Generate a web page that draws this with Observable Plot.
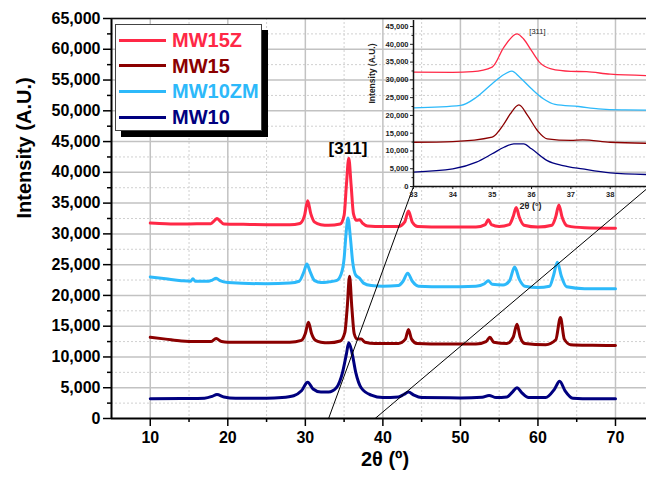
<!DOCTYPE html>
<html><head><meta charset="utf-8">
<script src="https://cdn.jsdelivr.net/npm/d3@7"></script>
<script src="https://cdn.jsdelivr.net/npm/@observablehq/plot@0.6"></script>
<style>
body{margin:0;background:#fff;}
#wrap{position:relative;width:646px;height:484px;overflow:hidden;font-family:Arial,"Liberation Sans",sans-serif;}
#wrap svg{position:absolute;}
#legend{position:absolute;left:115px;top:24px;width:145px;height:105px;border:1px solid #444;background:#fff;box-shadow:6px 6px 0 #000;}
.row{position:absolute;left:0;height:24px;display:flex;align-items:center;}
.sw{width:47px;height:3px;margin-left:3px;margin-right:6px;}
.lab{font-weight:bold;font-size:20px;line-height:20px;}
</style>
</head><body><div id="wrap"><div id="legend"></div></div>
<script>
// ---- data ----
const seriesNames = ["MW15Z", "MW15", "MW10ZM", "MW10"];
const seriesColors = ["#ff2846", "#8b0000", "#2db9fa", "#00007f"];

const MW15Z = [[10,31750],[12,31650],[14,31600],[16,31650],[17.8,31650],[18.3,32200],[18.6,32500],[19.0,32100],[19.5,31600],[22,31550],[25,31500],[28,31500],[29.3,31700],[29.9,33000],[30.3,35400],[30.7,33300],[31.2,31900],[32,31500],[33,31400],[34.5,31600],[35.0,33000],[35.3,38000],[35.6,42300],[35.9,38000],[36.2,33300],[36.6,32200],[37.0,32300],[37.4,31700],[38,31300],[40,31200],[42,31200],[42.8,31900],[43.3,33700],[43.8,31900],[44.5,31200],[48,31100],[52,31100],[53.2,31500],[53.6,32300],[54.0,31500],[55,31200],[56.3,31500],[56.8,32800],[57.2,34300],[57.6,32700],[58.2,31400],[60,31100],[61.8,31400],[62.3,32800],[62.7,34700],[63.1,32800],[63.8,31300],[66,31000],[70,30900]];
const MW15 = [[10,13200],[12,12900],[14,12600],[16,12500],[17.8,12500],[18.5,13000],[19.2,12500],[20,12400],[25,12400],[28,12400],[29.5,12700],[30.0,13800],[30.4,15650],[30.8,13800],[31.3,12700],[32,12400],[33,12300],[34.5,12600],[35.1,14000],[35.4,18000],[35.7,23100],[36.0,18000],[36.3,13800],[36.7,12900],[37.2,12900],[37.7,12400],[39,12200],[42,12200],[42.9,12900],[43.3,14450],[43.7,12900],[44.4,12200],[48,12100],[52,12100],[53.3,12500],[53.8,13200],[54.3,12400],[56,12200],[56.8,13200],[57.3,15300],[57.7,13300],[58.3,12200],[61,12000],[62.3,12800],[62.9,16400],[63.4,12900],[64.2,12000],[67,11900],[70,11850]];
const MW10ZM = [[10,23000],[12,22700],[14,22400],[15.2,22300],[15.5,22700],[15.8,22300],[17.5,22300],[18.0,22500],[18.5,22800],[19.0,22400],[20,22100],[25,21900],[28,22000],[29.2,22300],[29.8,23800],[30.2,25100],[30.6,23900],[31.2,22400],[32,22100],[33,22200],[34,22400],[34.6,23400],[35.0,26000],[35.25,30000],[35.5,32600],[35.8,29500],[36.1,25500],[36.5,23300],[37.0,22800],[37.5,22000],[38.5,21600],[40,21500],[42,21600],[42.6,22300],[43.2,23600],[43.8,22300],[44.6,21500],[48,21400],[52,21500],[53.1,21900],[53.6,22400],[54.1,21800],[55.5,21700],[56.3,22300],[57.0,24600],[57.6,22600],[58.3,21500],[60,21300],[61.5,21500],[62.0,23200],[62.5,25400],[63.0,23200],[63.7,21400],[66,21100],[70,21100]];
const MW10 = [[10,3200],[14,3250],[17,3300],[18,3600],[18.6,3900],[19.5,3500],[21,3300],[25,3300],[27,3400],[28.5,3700],[29.5,4500],[30.3,5900],[31.0,4800],[32,4300],[33,4300],[34,5000],[34.8,7500],[35.3,10500],[35.6,12300],[36.0,10800],[36.5,7500],[37.2,5000],[38.5,3800],[40,3400],[42,3500],[42.7,3900],[43.3,4300],[44.0,3800],[45,3400],[50,3350],[52.8,3450],[53.7,3750],[54.6,3400],[56,3500],[56.7,4300],[57.3,5000],[57.9,4200],[58.8,3400],[61,3400],[62.1,4700],[62.8,6050],[63.5,4500],[64.5,3300],[67,3200],[70,3200]];

// inset (zoom on the [311] reflection)
const inMW15Z = [[33,32150],[34,32100],[34.5,32300],[35.0,33600],[35.3,39200],[35.63,42950],[35.8,41500],[36.0,38200],[36.2,35000],[36.5,33100],[37.0,32400],[37.4,32300],[38.0,31600],[39,31200]];
const inMW10ZM = [[33,22100],[34.2,22800],[34.6,25100],[35.0,28900],[35.3,31500],[35.5,32450],[35.7,30750],[36.0,27500],[36.3,24700],[36.6,23100],[37.2,22500],[37.7,21850],[38.3,21550],[39,21500]];
const inMW15 = [[33,12450],[34,12650],[35.0,13900],[35.3,17600],[35.46,20400],[35.68,22950],[35.9,20000],[36.15,15750],[36.4,13400],[37.0,12950],[37.3,13100],[38.0,12450],[39,12150]];
const inMW10 = [[33,4050],[34,4950],[34.6,6850],[35.0,9200],[35.3,11050],[35.55,12000],[35.8,12000],[36.0,10600],[36.4,7300],[36.8,5900],[37.3,4950],[38.0,3850],[39,3350]];

const xTicks = [10, 20, 30, 40, 50, 60, 70];
const xMinor = [15, 25, 35, 45, 55, 65];
const yTicks = d3.range(0, 65001, 5000);
const yMinor = d3.range(2500, 65000, 5000);
const inXTicks = [33, 34, 35, 36, 37, 38];
const inXMinor = [33.5, 34.5, 35.5, 36.5, 37.5, 38.5];
const inYTicks = d3.range(0, 45001, 5000);
const inYMinor = d3.range(2500, 45000, 5000);
const peakLabel = [{x: 35.5, y: 43900, text: "[311]"}];
const inPeakLabel = [{x: 36.15, y: 43600, text: "[311]"}];
const zoomRange = [33, 39];

function rows(arrs, names) {
  const out = [];
  arrs.forEach((a, i) => a.forEach(([x, y]) => out.push({x, y, s: names[i]})));
  return out;
}
const mainData = rows([MW15Z, MW15, MW10ZM, MW10], seriesNames);
const insetData = rows([inMW15Z, inMW15, inMW10ZM, inMW10], seriesNames);
const colorScale = {domain: seriesNames, range: seriesColors};

// ---- layout ----
const M = {w: 646, h: 484, l: 111, r: 0, t: 18, b: 66};
const mainXDomain = [5, 74], mainYDomain = [0, 65000];
const I = {left: 340, top: 0, w: 309, h: 230, l: 73, r: 0, t: 20, b: 44};
const inYDomain = [0, 46700];

const wrap = document.getElementById("wrap");

// inset
const inset = Plot.plot({
  width: I.w, height: I.h, marginLeft: I.l, marginRight: I.r, marginTop: I.t, marginBottom: I.b,
  x: {domain: zoomRange}, y: {domain: inYDomain},
  color: colorScale,
  style: {background: "transparent", fontFamily: "Arial, 'Liberation Sans', sans-serif", fontSize: "7.5px", fontWeight: "bold", color: "#222", overflow: "visible"},
  marks: [
    Plot.line(insetData, {x: "x", y: "y", z: "s", stroke: "s", strokeWidth: 1.3, curve: "monotone-x"}),
    Plot.axisY(inYTicks, {tickSize: 3, tickPadding: 2, tickFormat: d3.format(","), label: null, strokeWidth: 1}),
    Plot.axisY(inYMinor, {tickSize: 1.5, tickFormat: () => "", label: null}),
    Plot.axisX(inXTicks, {tickSize: 3, tickPadding: 2, tickFormat: d => d, label: null}),
    Plot.axisX(inXMinor, {tickSize: 1.5, tickFormat: () => "", label: null}),
    Plot.ruleX([zoomRange[0]], {stroke: "#111", strokeWidth: 1.5}),
    Plot.ruleY([0], {stroke: "#111", strokeWidth: 1.5}),
    Plot.text(inPeakLabel, {x: "x", y: "y", text: "text", fontSize: 7.5, fontWeight: "normal", fill: "#222"}),
    Plot.text(["Intensity (A.U.)"], {frameAnchor: "left", dx: -41, rotate: -90, fontSize: 8.5, fill: "#222"}),
    Plot.text(["2θ (°)"], {frameAnchor: "bottom", dy: 22, dx: -1, fontSize: 9, fill: "#222"})
  ]
});

// connectors: inset bottom corners expressed in main data coordinates
const mainXS = Plot.scale({x: {domain: mainXDomain, range: [M.l, M.w - M.r]}});
const mainYS = Plot.scale({y: {domain: mainYDomain, range: [M.h - M.b, M.t]}});
const ix = inset.scale("x"), iy = inset.scale("y");
const connectors = zoomRange.map(v => ({
  x1: v, y1: 0,
  x2: mainXS.invert(I.left + ix.apply(v)),
  y2: mainYS.invert(I.top + iy.apply(0))
}));

const main = Plot.plot({
  width: M.w, height: M.h, marginLeft: M.l, marginRight: M.r, marginTop: M.t, marginBottom: M.b,
  x: {domain: mainXDomain}, y: {domain: mainYDomain},
  color: colorScale,
  style: {background: "transparent", fontFamily: "Arial, 'Liberation Sans', sans-serif", fontSize: "16px", fontWeight: "bold", color: "#000"},
  marks: [
    Plot.gridX(xMinor, {stroke: "#d0d0d0", strokeOpacity: 1, strokeDasharray: "2,2"}),
    Plot.gridY(yMinor, {stroke: "#d0d0d0", strokeOpacity: 1, strokeDasharray: "2,2"}),
    Plot.gridX(xTicks, {stroke: "#c2c2c2", strokeOpacity: 1, strokeWidth: 1.5}),
    Plot.gridY(yTicks.filter(d => d > 0), {stroke: "#c2c2c2", strokeOpacity: 1, strokeWidth: 1.5}),
    Plot.line(mainData, {x: "x", y: "y", z: "s", stroke: "s", strokeWidth: 3, curve: "monotone-x"}),
    Plot.link(connectors, {x1: "x1", y1: "y1", x2: "x2", y2: "y2", stroke: "#000", strokeWidth: 1}),
    Plot.axisY(yTicks, {tickSize: 8, tickPadding: 3, tickFormat: d3.format(","), label: null, strokeWidth: 1.5}),
    Plot.axisY(yMinor, {tickSize: 4, tickFormat: () => "", label: null, strokeWidth: 1.5}),
    Plot.axisX(xTicks, {tickSize: 8, tickPadding: 5, tickFormat: d => d, label: null, strokeWidth: 1.5}),
    Plot.axisX(xMinor, {tickSize: 4, tickFormat: () => "", label: null, strokeWidth: 1.5}),
    Plot.ruleX([mainXDomain[0]], {stroke: "#000", strokeWidth: 2}),
    Plot.ruleY([0], {stroke: "#000", strokeWidth: 2}),
    Plot.ruleY([mainYDomain[1]], {stroke: "#111", strokeWidth: 1.5}),
    Plot.text(peakLabel, {x: "x", y: "y", text: "text", fontSize: 17}),
    Plot.text(["Intensity (A.U.)"], {frameAnchor: "left", dx: -87, rotate: -90, fontSize: 20}),
    Plot.text(["2θ (º)"], {frameAnchor: "bottom", dy: 47, dx: 6, fontSize: 20})
  ]
});
main.style.left = "0px"; main.style.top = "0px";
inset.style.left = I.left + "px"; inset.style.top = I.top + "px";
wrap.insertBefore(main, wrap.firstChild);
wrap.insertBefore(inset, document.getElementById("legend"));

// legend
const legend = document.getElementById("legend");
seriesNames.forEach((n, i) => {
  const r = document.createElement("div");
  r.className = "row";
  r.style.top = (3 + i * 25.7) + "px";
  r.innerHTML = `<div class="sw" style="background:${seriesColors[i]}"></div><span class="lab" style="color:${seriesColors[i]}">${n}</span>`;
  legend.appendChild(r);
});
</script>
</body></html>
